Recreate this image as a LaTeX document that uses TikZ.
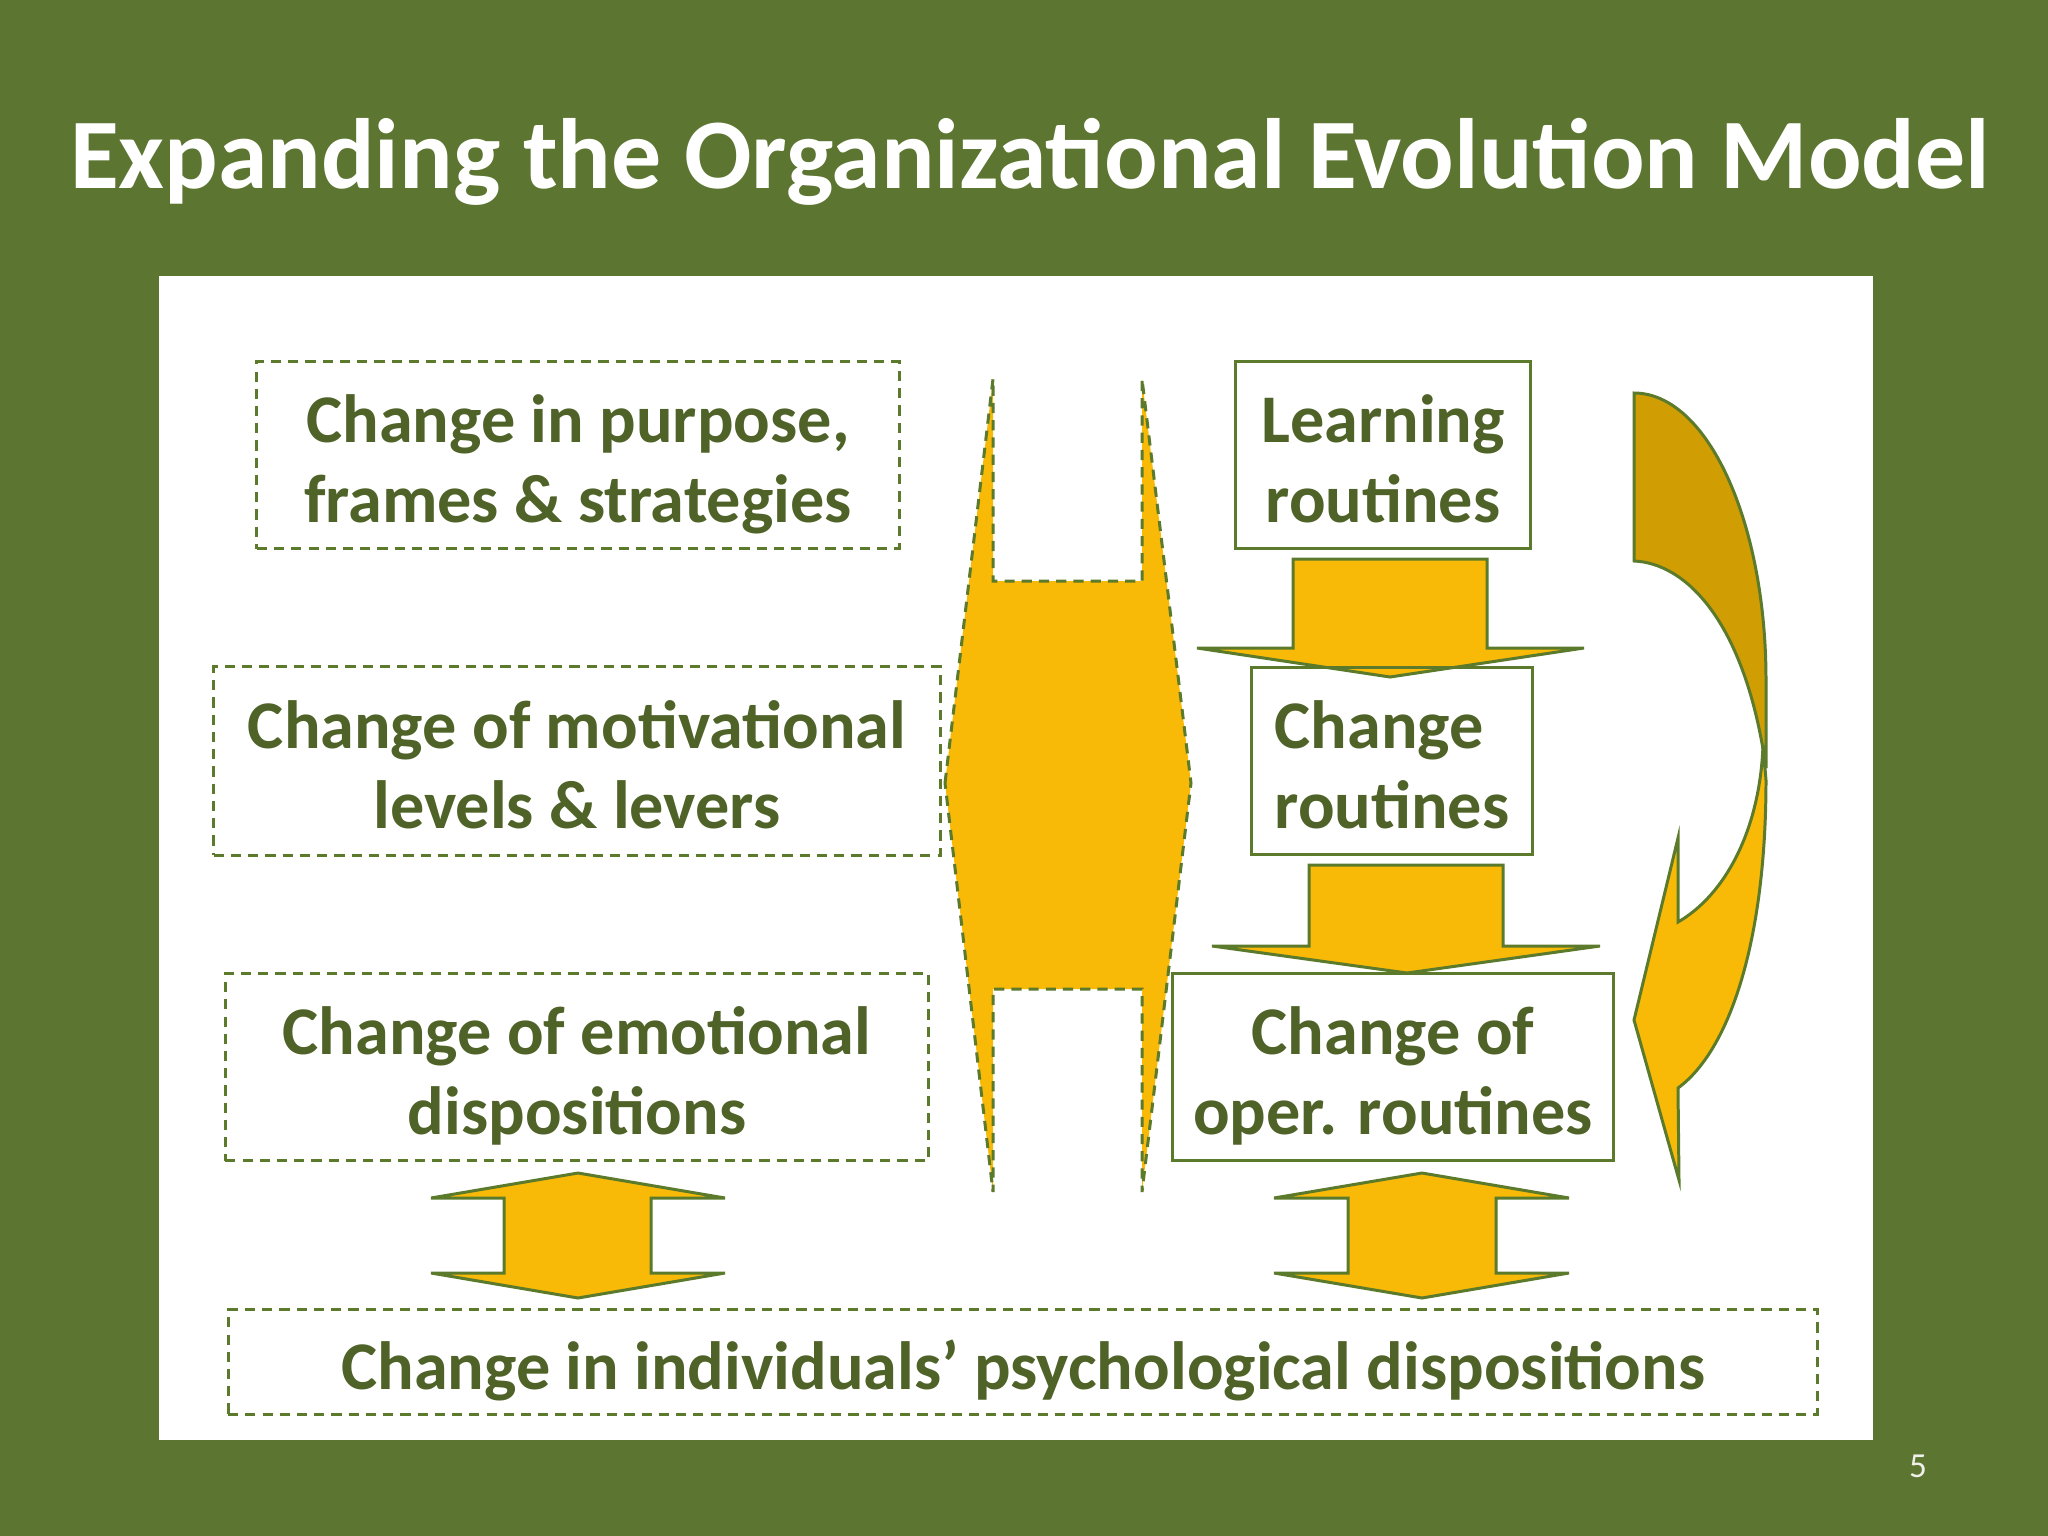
\documentclass[tikz,border=0pt]{standalone}
\usepackage{fontspec}
\setmainfont{Carlito}
\usepackage{xcolor}
\usepackage{tikz}

\definecolor{slidegreen}{HTML}{5C7531}
\definecolor{textgreen}{HTML}{4F6228}
\definecolor{linegreen}{HTML}{5B7A2C}
\definecolor{arrowyellow}{HTML}{F8BA06}
\definecolor{arrowgold}{HTML}{D09E02}

\newcommand{\titlefont}{\fontsize{28.4}{33}\selectfont\bfseries}
\newcommand{\boxfont}{\fontsize{19.4}{22.8}\selectfont\bfseries}
\newcommand{\topstrut}{\rule{0pt}{0.66cm}}
\newcommand{\lowstrut}{\rule{0pt}{0.56cm}}

\begin{document}
\begin{tikzpicture}[
      x=0.01cm, y=-0.01cm,
      dashbox/.style={
        draw=linegreen,
        dash pattern=on 2.9pt off 2pt,
        line width=0.85pt,
        inner sep=0pt,
        align=center,
        text=textgreen,
        font=\boxfont
      },
      routinebox/.style={
        dashbox,
        solid
      },
      blockarrow/.style={
        draw=linegreen,
        line width=0.85pt,
        fill=arrowyellow
      }
      ]
        % slide
        \fill[slidegreen] (0,0) rectangle (2048,1536);
        \fill[white] (159,276) rectangle (1873,1440);
        \node[text=white, font=\titlefont, anchor=base] (title) at (1030,188) {Expanding the Organizational Evolution Model};
        \node[text=white!90!slidegreen, font=\fontsize{10}{12}\selectfont, anchor=base] (pagenum) at (1918,1477) {5};

        % arrows
        \draw[blockarrow, dash pattern=on 2.9pt off 2pt] (945,783) -- (993,379) -- (993,581) -- (1142,581) -- (1142,379) -- (1191,783)
          -- (1142,1192) -- (1142,989) -- (993,989) -- (993,1192) -- cycle;
        \draw[blockarrow] (1293,559) -- (1487,559) -- (1487,648) -- (1584,648) -- (1390,677) -- (1197,648) -- (1293,648) -- cycle;
        \draw[blockarrow] (1309,865) -- (1503,865) -- (1503,946) -- (1600,946) -- (1407,973) -- (1212,946) -- (1309,946) -- cycle;
        \draw[blockarrow] (578,1173) -- (725,1198) -- (651,1198) -- (651,1273) -- (725,1273) -- (578,1298)
          -- (431,1273) -- (504,1273) -- (504,1198) -- (431,1198) -- cycle;
        \draw[blockarrow] (1422,1173) -- (1569,1198) -- (1496,1198) -- (1496,1273) -- (1569,1273) -- (1422,1298)
          -- (1274,1273) -- (1348,1273) -- (1348,1198) -- (1274,1198) -- cycle;

        % curved arrow
        \draw[blockarrow, fill=arrowgold] (1634,393) .. controls (1707,393) and (1766,521) .. (1766,680) -- (1766,768)
          .. controls (1745,620) and (1685,563) .. (1634,561) -- cycle;
        \draw[blockarrow] (1763,745) -- (1766,780) .. controls (1766,940) and (1730,1050) .. (1678,1088) -- (1679,1180)
          -- (1634,1020) -- (1678,838) -- (1678,922) .. controls (1725,895) and (1760,830) .. (1763,745) -- cycle;

        % boxes
        \node[dashbox, minimum width=6.42cm, minimum height=1.87cm] (purpose) at (578,455) {\topstrut Change in purpose,\\frames \& strategies};
        \node[dashbox, minimum width=7.26cm, minimum height=1.88cm] (motiv) at (577,761) {\lowstrut Change of motivational\\levels \& levers};
        \node[dashbox, minimum width=7.03cm, minimum height=1.87cm] (emot) at (577,1067) {\topstrut Change of emotional\\dispositions};
        \node[dashbox, minimum width=15.89cm, minimum height=1.04cm] (indiv) at (1023,1362) {\topstrut Change in individuals’ psychological dispositions};

        \node[routinebox, minimum width=2.95cm, minimum height=1.87cm] (learn) at (1383,455) {\lowstrut Learning\\routines};
        \node[routinebox, minimum width=2.80cm, minimum height=1.86cm, align=left] (change) at (1392,761) {\lowstrut Change\\routines};
        \node[routinebox, minimum width=4.40cm, minimum height=1.87cm] (oper) at (1393,1067) {\topstrut Change of\\oper. routines};
\end{tikzpicture}
\end{document}
